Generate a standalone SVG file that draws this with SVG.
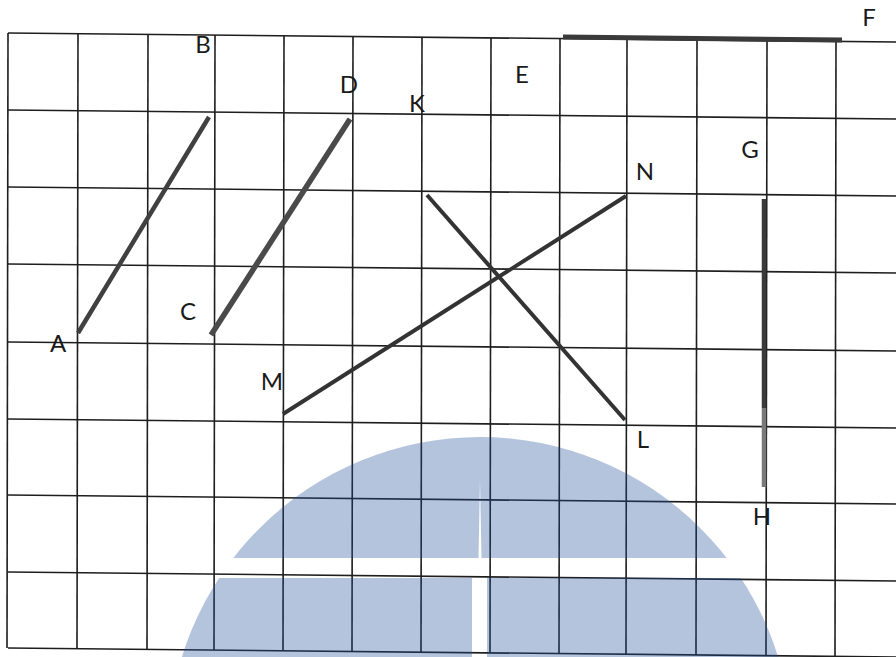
<svg xmlns="http://www.w3.org/2000/svg" width="896" height="657" viewBox="0 0 896 657">
<style>
.grid line{stroke:#1e1e1e;stroke-width:1.6;}
.seg{stroke:#404040;stroke-linecap:butt;fill:none;}
.lbl{font-family:Lato,"Open Sans",sans-serif;font-size:24px;fill:#1a1a1a;text-anchor:middle;}
</style>
<defs>
<mask id="wm">
<rect x="0" y="0" width="896" height="657" fill="black"/>
<circle cx="480" cy="749" r="312" fill="white"/>
<rect x="0" y="558" width="896" height="20" fill="black"/>
<polygon points="480,480 478.5,558 481.5,558" fill="black"/>
<rect x="472" y="578" width="15" height="80" fill="black"/>
</mask>
</defs>
<rect width="896" height="657" fill="#ffffff"/>
<g id="grid" class="grid">
<line x1="8" y1="33" x2="896" y2="42"/>
<line x1="8" y1="110" x2="896" y2="119"/>
<line x1="8" y1="187" x2="896" y2="196"/>
<line x1="8" y1="264" x2="896" y2="273"/>
<line x1="8" y1="342" x2="896" y2="351"/>
<line x1="8" y1="419" x2="896" y2="428"/>
<line x1="8" y1="495" x2="896" y2="504"/>
<line x1="8" y1="572" x2="896" y2="581"/>
<line x1="8" y1="648" x2="896" y2="657"/>
<line x1="8" y1="33" x2="7" y2="648"/>
<line x1="78" y1="33.7" x2="77" y2="648.7"/>
<line x1="148" y1="34.4" x2="147" y2="649.4"/>
<line x1="215" y1="35.1" x2="214" y2="650.1"/>
<line x1="284" y1="35.8" x2="283" y2="650.8"/>
<line x1="353" y1="36.5" x2="352" y2="651.5"/>
<line x1="422" y1="37.2" x2="421" y2="652.2"/>
<line x1="491" y1="37.9" x2="490" y2="652.9"/>
<line x1="560" y1="38.6" x2="559" y2="653.6"/>
<line x1="627" y1="39.3" x2="626" y2="654.3"/>
<line x1="697" y1="40" x2="696" y2="655"/>
<line x1="767" y1="40.7" x2="766" y2="655.7"/>
<line x1="836" y1="41.4" x2="835" y2="656.4"/>
</g>
<g id="connectors">
<line id="seg-AB" class="seg" x1="78" y1="333" x2="209" y2="117" stroke-width="4.5"/>
<line id="seg-CD" class="seg" x1="211" y1="335" x2="350" y2="119" stroke-width="5.5" style="stroke:#4a4a4a"/>
<line id="seg-KL" class="seg" x1="427" y1="195" x2="625" y2="420" stroke-width="4" style="stroke:#333"/>
<line id="seg-MN" class="seg" x1="283" y1="414" x2="626" y2="196" stroke-width="4" style="stroke:#333"/>
<line id="seg-EF" class="seg" x1="563" y1="37" x2="842" y2="40" stroke-width="5" style="stroke:#3a3a3a"/>
<line id="seg-GH1" class="seg" x1="764" y1="199" x2="764" y2="408" stroke-width="4.5" style="stroke:#3a3a3a"/>
<line id="seg-GH2" class="seg" x1="764" y1="408" x2="764" y2="487" stroke-width="4.5" style="stroke:#7a7a7a"/>
</g>
<g id="labels">
<g id="node-A"><text class="lbl" x="58" y="352">A</text></g>
<g id="node-B"><text class="lbl" x="203" y="53">B</text></g>
<g id="node-C"><text class="lbl" x="188" y="320">C</text></g>
<g id="node-D"><text class="lbl" x="349" y="93">D</text></g>
<g id="node-E"><text class="lbl" x="522" y="83">E</text></g>
<g id="node-F"><text class="lbl" x="869" y="26">F</text></g>
<g id="node-G"><text class="lbl" x="750" y="158">G</text></g>
<g id="node-H"><text class="lbl" x="762" y="525">H</text></g>
<g id="node-K"><text class="lbl" x="417" y="112">K</text></g>
<g id="node-L"><text class="lbl" x="643" y="448">L</text></g>
<g id="node-M"><text class="lbl" x="272" y="390">M</text></g>
<g id="node-N"><text class="lbl" x="645" y="180">N</text></g>
</g>
<rect id="watermark" x="0" y="0" width="896" height="657" fill="#1f4e9a" opacity="0.33" mask="url(#wm)"/>
</svg>
